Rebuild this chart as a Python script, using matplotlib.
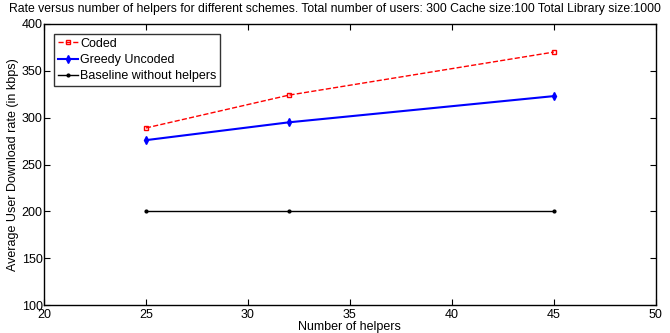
import matplotlib
matplotlib.use("Agg")
import matplotlib.pyplot as plt

plt.rcParams['font.family'] = ['Liberation Sans', 'DejaVu Sans']

helpers = [25, 32, 45]
coded = [289, 324, 370]
greedy = [276, 295, 323]
baseline = [200, 200, 200]

fig = plt.figure(figsize=(6.7, 3.33), dpi=100)
ax = fig.add_axes([0.0657, 0.084, 0.913, 0.844])

ax.plot(helpers, coded, color='red', linestyle='--', marker='s', markersize=3,
        markerfacecolor='none', linewidth=1.0, label='Coded')
ax.plot(helpers, greedy, color='blue', linestyle='-', marker='d', markersize=4,
        linewidth=1.5, label='Greedy Uncoded')
ax.plot(helpers, baseline, color='black', linestyle='-', marker='.', markersize=4,
        linewidth=1.0, label='Baseline without helpers')

ax.set_xlim(20, 50)
ax.set_ylim(100, 400)
ax.set_xticks([20, 25, 30, 35, 40, 45, 50])
ax.set_yticks([100, 150, 200, 250, 300, 350, 400])
ax.tick_params(direction='in', top=True, right=True, labelsize=9, length=4, pad=1)
ax.tick_params(axis='x', pad=3)
for lbl in ax.get_yticklabels():
    lbl.set_verticalalignment('center_baseline')
for s in ax.spines.values():
    s.set_linewidth(1.0)

fig.text(0.5, 0.972,
         'Rate versus number of helpers for different schemes. Total number of users: 300 Cache size:100 Total Library size:1000',
         fontsize=8.8, ha='center', va='center')
ax.set_xlabel('Number of helpers', fontsize=9, labelpad=0)
ax.set_ylabel('Average User Download rate (in kbps)', fontsize=9, labelpad=2)

leg = ax.legend(loc='upper left', fontsize=9, frameon=True, fancybox=False,
                edgecolor='black', borderpad=0.3, handlelength=1.6,
                handletextpad=0.2, labelspacing=0.35, borderaxespad=0.8)
leg.get_frame().set_linewidth(1.0)

fig.savefig('out.png', dpi=100)
